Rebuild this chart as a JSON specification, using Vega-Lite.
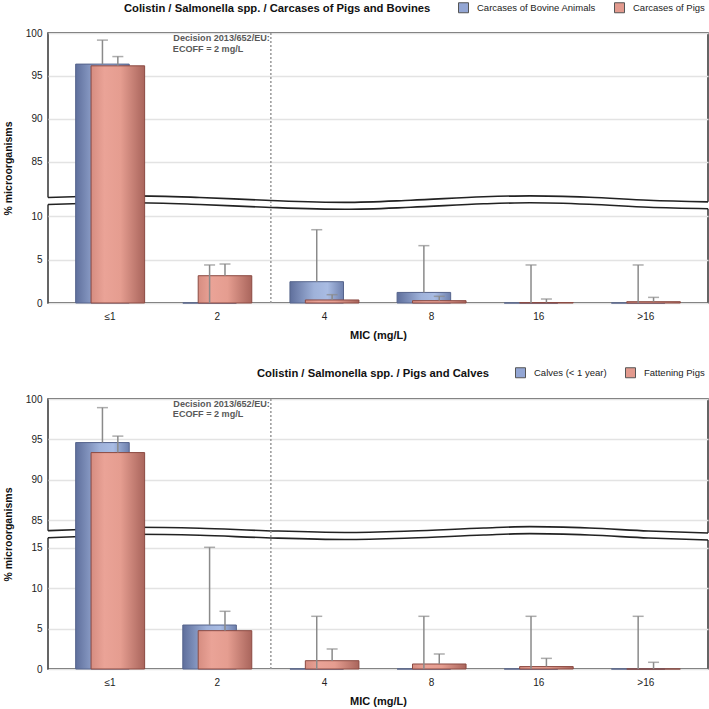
{
  "$schema": "https://vega.github.io/schema/vega-lite/v6.json",
  "padding": {"left": 2, "top": 1, "right": 0, "bottom": 0},
  "background": "white",
  "spacing": 25,
  "resolve": {"scale": {"x": "independent", "y": "independent", "color": "independent"}, "legend": {"color": "independent"}},
  "config": {
    "font": "Liberation Sans",
    "view": {"stroke": "#333", "strokeWidth": 1.5},
    "axis": {"labelFontSize": 10, "labelColor": "#222", "titleFontWeight": "bold", "titleColor": "#111", "domain": false, "ticks": false},
    "axisX": {"labelPadding": 8, "titlePadding": 8, "titleFontSize": 11, "labelAngle": 0, "grid": false},
    "axisY": {"labelPadding": 6, "titlePadding": 12, "titleFontSize": 10.5, "grid": true, "gridColor": "#e3e3e3", "gridWidth": 1.5},
    "title": {"fontSize": 11.25, "fontWeight": "bold", "color": "#111"},
    "legend": {"padding": 0, "labelFontSize": 9.5, "labelColor": "#222", "symbolType": "square", "symbolSize": 100, "symbolStrokeColor": "#555", "symbolStrokeWidth": 1, "labelOffset": 8, "columnPadding": 16}
  },
  "datasets": {
    "top": [
      {"mic": "≤1", "series": "Carcases of Bovine Animals", "value": 96.37, "upper": 99.17},
      {"mic": "2", "series": "Carcases of Bovine Animals", "value": 0, "upper": 4.39},
      {"mic": "4", "series": "Carcases of Bovine Animals", "value": 2.46, "upper": 8.46},
      {"mic": "8", "series": "Carcases of Bovine Animals", "value": 1.22, "upper": 6.62},
      {"mic": "16", "series": "Carcases of Bovine Animals", "value": 0, "upper": 4.39},
      {"mic": ">16", "series": "Carcases of Bovine Animals", "value": 0, "upper": 4.39},
      {"mic": "≤1", "series": "Carcases of Pigs", "value": 96.17, "upper": 97.25},
      {"mic": "2", "series": "Carcases of Pigs", "value": 3.15, "upper": 4.5},
      {"mic": "4", "series": "Carcases of Pigs", "value": 0.35, "upper": 0.96},
      {"mic": "8", "series": "Carcases of Pigs", "value": 0.27, "upper": 0.77},
      {"mic": "16", "series": "Carcases of Pigs", "value": 0.05, "upper": 0.46},
      {"mic": ">16", "series": "Carcases of Pigs", "value": 0.15, "upper": 0.65}
    ],
    "bot": [
      {"mic": "≤1", "series": "Calves (< 1 year)", "value": 94.6, "upper": 98.93},
      {"mic": "2", "series": "Calves (< 1 year)", "value": 5.45, "upper": 15.08},
      {"mic": "4", "series": "Calves (< 1 year)", "value": 0, "upper": 6.53},
      {"mic": "8", "series": "Calves (< 1 year)", "value": 0, "upper": 6.53},
      {"mic": "16", "series": "Calves (< 1 year)", "value": 0, "upper": 6.53},
      {"mic": ">16", "series": "Calves (< 1 year)", "value": 0, "upper": 6.53},
      {"mic": "≤1", "series": "Fattening Pigs", "value": 93.36, "upper": 95.4},
      {"mic": "2", "series": "Fattening Pigs", "value": 4.75, "upper": 7.15},
      {"mic": "4", "series": "Fattening Pigs", "value": 1.03, "upper": 2.48},
      {"mic": "8", "series": "Fattening Pigs", "value": 0.62, "upper": 1.86},
      {"mic": "16", "series": "Fattening Pigs", "value": 0.3, "upper": 1.32},
      {"mic": ">16", "series": "Fattening Pigs", "value": 0, "upper": 0.83}
    ],
    "wtop": [
      {"f": -0.004, "hi": 80.81, "lo": 11.37},
      {"f": 0, "hi": 80.81, "lo": 11.37},
      {"f": 0.05, "hi": 80.92, "lo": 11.49},
      {"f": 0.13, "hi": 81.0, "lo": 11.57},
      {"f": 0.23, "hi": 80.81, "lo": 11.37},
      {"f": 0.33, "hi": 80.48, "lo": 11.05},
      {"f": 0.45, "hi": 80.24, "lo": 10.82},
      {"f": 0.55, "hi": 80.48, "lo": 11.05},
      {"f": 0.66, "hi": 80.89, "lo": 11.45},
      {"f": 0.73, "hi": 81.0, "lo": 11.57},
      {"f": 0.82, "hi": 80.83, "lo": 11.4},
      {"f": 0.91, "hi": 80.48, "lo": 11.05},
      {"f": 1, "hi": 80.3, "lo": 10.88},
      {"f": 1.004, "hi": 80.3, "lo": 10.88}
    ],
    "wbot": [
      {"f": -0.004, "hi": 83.68, "lo": 16.27},
      {"f": 0, "hi": 83.68, "lo": 16.27},
      {"f": 0.05, "hi": 83.83, "lo": 16.42},
      {"f": 0.13, "hi": 84.1, "lo": 16.69},
      {"f": 0.23, "hi": 83.98, "lo": 16.57},
      {"f": 0.33, "hi": 83.68, "lo": 16.27},
      {"f": 0.45, "hi": 83.46, "lo": 16.05},
      {"f": 0.55, "hi": 83.64, "lo": 16.23},
      {"f": 0.66, "hi": 84.01, "lo": 16.6},
      {"f": 0.73, "hi": 84.18, "lo": 16.77},
      {"f": 0.82, "hi": 84.01, "lo": 16.6},
      {"f": 0.91, "hi": 83.64, "lo": 16.23},
      {"f": 1, "hi": 83.4, "lo": 15.99},
      {"f": 1.004, "hi": 83.4, "lo": 15.99}
    ]
  },
  "vconcat": [
    {
      "width": 660,
      "height": 270,
      "title": {"text": "Colistin / Salmonella spp. / Carcases of Pigs and Bovines", "anchor": "start", "frame": "group", "dx": 76, "offset": -12},
      "resolve": {"scale": {"x": "independent"}},
      "layer": [
        {
          "data": {"name": "wtop"},
          "layer": [
            {"mark": {"type": "area", "color": "white", "interpolate": "monotone"},
             "encoding": {
               "x": {"field": "f", "type": "quantitative", "scale": {"domain": [0, 1], "nice": false, "zero": false}, "axis": null},
               "y": {"field": "hi", "type": "quantitative", "scale": {"domain": [0, 11.59, 80.21, 100], "range": [270, 169.6, 169.6, 0], "nice": false, "zero": false}, "axis": {"values": [0, 5, 10, 85, 90, 95, 100], "title": "% microorganisms"}},
               "y2": {"field": "lo"}}},
            {"transform": [{"filter": "datum.f >= 0 && datum.f <= 1"}],
             "mark": {"type": "line", "color": "#222", "strokeWidth": 1.6, "interpolate": "monotone"},
             "encoding": {
               "x": {"field": "f", "type": "quantitative", "scale": {"domain": [0, 1], "nice": false, "zero": false}, "axis": null},
               "y": {"field": "hi", "type": "quantitative", "scale": {"domain": [0, 11.59, 80.21, 100], "range": [270, 169.6, 169.6, 0], "nice": false, "zero": false}, "axis": {"values": [0, 5, 10, 85, 90, 95, 100], "title": "% microorganisms"}}}},
            {"transform": [{"filter": "datum.f >= 0 && datum.f <= 1"}],
             "mark": {"type": "line", "color": "#222", "strokeWidth": 1.6, "interpolate": "monotone"},
             "encoding": {
               "x": {"field": "f", "type": "quantitative", "scale": {"domain": [0, 1], "nice": false, "zero": false}, "axis": null},
               "y": {"field": "lo", "type": "quantitative", "scale": {"domain": [0, 11.59, 80.21, 100], "range": [270, 169.6, 169.6, 0], "nice": false, "zero": false}, "axis": {"values": [0, 5, 10, 85, 90, 95, 100], "title": "% microorganisms"}}}}
          ]
        },
        {
          "data": {"name": "top"},
          "layer": [
            {"data": {"values": [{}]},
             "mark": {"type": "rule", "color": "#999", "strokeDash": [2, 2], "strokeWidth": 1.5},
             "encoding": {"x": {"datum": "4", "type": "nominal", "bandPosition": 0, "scale": {"domain": ["≤1", "2", "4", "8", "16", ">16"], "paddingInner": 0, "paddingOuter": 0.08}, "axis": {"title": "MIC (mg/L)"}}}},
            {"transform": [{"filter": "datum.value < 0"}],
             "mark": {"type": "bar"},
             "encoding": {
               "x": {"field": "mic", "type": "nominal", "scale": {"domain": ["≤1", "2", "4", "8", "16", ">16"], "paddingInner": 0, "paddingOuter": 0.08}, "axis": {"title": "MIC (mg/L)"}},
               "y": {"field": "value", "type": "quantitative", "scale": {"domain": [0, 11.59, 80.21, 100], "range": [270, 169.6, 169.6, 0], "nice": false, "zero": false}, "axis": {"values": [0, 5, 10, 85, 90, 95, 100], "title": "% microorganisms"}},
               "color": {"field": "series", "type": "nominal", "scale": {"domain": ["Carcases of Bovine Animals", "Carcases of Pigs"], "range": ["#93a6d4", "#e29a8e"]},
                 "legend": {"orient": "none", "legendX": 410, "legendY": -31, "direction": "horizontal", "title": null}}}},
            {"transform": [{"filter": "datum.series == 'Carcases of Bovine Animals'"}],
             "mark": {"type": "bar", "width": {"band": 0.5}, "xOffset": -7.7, "stroke": "#56648c", "strokeWidth": 1,
               "color": {"gradient": "linear", "x1": 0, "y1": 0, "x2": 1, "y2": 0, "stops": [{"offset": 0, "color": "#5f6f9c"}, {"offset": 0.45, "color": "#9fb2da"}, {"offset": 0.7, "color": "#a9bce3"}, {"offset": 1, "color": "#6e80ad"}]}},
             "encoding": {
               "x": {"field": "mic", "type": "nominal", "scale": {"domain": ["≤1", "2", "4", "8", "16", ">16"], "paddingInner": 0, "paddingOuter": 0.08}, "axis": {"title": "MIC (mg/L)"}},
               "y": {"field": "value", "type": "quantitative", "scale": {"domain": [0, 11.59, 80.21, 100], "range": [270, 169.6, 169.6, 0], "nice": false, "zero": false}, "axis": {"values": [0, 5, 10, 85, 90, 95, 100], "title": "% microorganisms"}}}},
            {"transform": [{"filter": "datum.series == 'Carcases of Pigs'"}],
             "mark": {"type": "bar", "width": {"band": 0.5}, "xOffset": 7.7, "stroke": "#8b4a42", "strokeWidth": 1,
               "color": {"gradient": "linear", "x1": 0, "y1": 0, "x2": 1, "y2": 0, "stops": [{"offset": 0, "color": "#d68d81"}, {"offset": 0.25, "color": "#eaa397"}, {"offset": 0.55, "color": "#e59d90"}, {"offset": 1, "color": "#a9655c"}]}},
             "encoding": {
               "x": {"field": "mic", "type": "nominal", "scale": {"domain": ["≤1", "2", "4", "8", "16", ">16"], "paddingInner": 0, "paddingOuter": 0.08}, "axis": {"title": "MIC (mg/L)"}},
               "y": {"field": "value", "type": "quantitative", "scale": {"domain": [0, 11.59, 80.21, 100], "range": [270, 169.6, 169.6, 0], "nice": false, "zero": false}, "axis": {"values": [0, 5, 10, 85, 90, 95, 100], "title": "% microorganisms"}}}},
            {"transform": [{"filter": "datum.series == 'Carcases of Bovine Animals'"}],
             "layer": [
               {"mark": {"type": "rule", "color": "#8a8a8a", "strokeWidth": 1.5, "xOffset": -7.7},
                "encoding": {
                  "x": {"field": "mic", "type": "nominal", "scale": {"domain": ["≤1", "2", "4", "8", "16", ">16"], "paddingInner": 0, "paddingOuter": 0.08}, "axis": {"title": "MIC (mg/L)"}},
                  "y": {"field": "value", "type": "quantitative", "scale": {"domain": [0, 11.59, 80.21, 100], "range": [270, 169.6, 169.6, 0], "nice": false, "zero": false}, "axis": {"values": [0, 5, 10, 85, 90, 95, 100], "title": "% microorganisms"}},
                  "y2": {"field": "upper"}}},
               {"mark": {"type": "tick", "color": "#8a8a8a", "size": 11, "thickness": 1.5, "xOffset": -7.7},
                "encoding": {
                  "x": {"field": "mic", "type": "nominal", "scale": {"domain": ["≤1", "2", "4", "8", "16", ">16"], "paddingInner": 0, "paddingOuter": 0.08}, "axis": {"title": "MIC (mg/L)"}},
                  "y": {"field": "upper", "type": "quantitative", "scale": {"domain": [0, 11.59, 80.21, 100], "range": [270, 169.6, 169.6, 0], "nice": false, "zero": false}, "axis": {"values": [0, 5, 10, 85, 90, 95, 100], "title": "% microorganisms"}}}}
             ]},
            {"transform": [{"filter": "datum.series == 'Carcases of Pigs'"}],
             "layer": [
               {"mark": {"type": "rule", "color": "#8a8a8a", "strokeWidth": 1.5, "xOffset": 7.7},
                "encoding": {
                  "x": {"field": "mic", "type": "nominal", "scale": {"domain": ["≤1", "2", "4", "8", "16", ">16"], "paddingInner": 0, "paddingOuter": 0.08}, "axis": {"title": "MIC (mg/L)"}},
                  "y": {"field": "value", "type": "quantitative", "scale": {"domain": [0, 11.59, 80.21, 100], "range": [270, 169.6, 169.6, 0], "nice": false, "zero": false}, "axis": {"values": [0, 5, 10, 85, 90, 95, 100], "title": "% microorganisms"}},
                  "y2": {"field": "upper"}}},
               {"mark": {"type": "tick", "color": "#8a8a8a", "size": 11, "thickness": 1.5, "xOffset": 7.7},
                "encoding": {
                  "x": {"field": "mic", "type": "nominal", "scale": {"domain": ["≤1", "2", "4", "8", "16", ">16"], "paddingInner": 0, "paddingOuter": 0.08}, "axis": {"title": "MIC (mg/L)"}},
                  "y": {"field": "upper", "type": "quantitative", "scale": {"domain": [0, 11.59, 80.21, 100], "range": [270, 169.6, 169.6, 0], "nice": false, "zero": false}, "axis": {"values": [0, 5, 10, 85, 90, 95, 100], "title": "% microorganisms"}}}}
             ]},
            {"data": {"values": [{}]},
             "mark": {"type": "text", "text": "Decision 2013/652/EU:", "align": "right", "baseline": "middle", "dx": -1, "dy": 5, "fontWeight": "bold", "fontSize": 9.1, "color": "#595959"},
             "encoding": {
               "x": {"datum": "4", "type": "nominal", "bandPosition": 0, "scale": {"domain": ["≤1", "2", "4", "8", "16", ">16"], "paddingInner": 0, "paddingOuter": 0.08}, "axis": {"title": "MIC (mg/L)"}},
               "y": {"datum": 100, "type": "quantitative", "scale": {"domain": [0, 11.59, 80.21, 100], "range": [270, 169.6, 169.6, 0], "nice": false, "zero": false}, "axis": {"values": [0, 5, 10, 85, 90, 95, 100], "title": "% microorganisms"}}}},
            {"data": {"values": [{}]},
             "mark": {"type": "text", "text": "ECOFF = 2 mg/L", "align": "left", "baseline": "middle", "dx": -98, "dy": 16, "fontWeight": "bold", "fontSize": 9.1, "color": "#595959"},
             "encoding": {
               "x": {"datum": "4", "type": "nominal", "bandPosition": 0, "scale": {"domain": ["≤1", "2", "4", "8", "16", ">16"], "paddingInner": 0, "paddingOuter": 0.08}, "axis": {"title": "MIC (mg/L)"}},
               "y": {"datum": 100, "type": "quantitative", "scale": {"domain": [0, 11.59, 80.21, 100], "range": [270, 169.6, 169.6, 0], "nice": false, "zero": false}, "axis": {"values": [0, 5, 10, 85, 90, 95, 100], "title": "% microorganisms"}}}}
          ]
        }
      ]
    },
    {
      "width": 660,
      "height": 270,
      "title": {"text": "Colistin / Salmonella spp. / Pigs and Calves", "anchor": "start", "frame": "group", "dx": 209, "offset": -12},
      "resolve": {"scale": {"x": "independent"}},
      "layer": [
        {
          "data": {"name": "wbot"},
          "layer": [
            {"mark": {"type": "area", "color": "white", "interpolate": "monotone"},
             "encoding": {
               "x": {"field": "f", "type": "quantitative", "scale": {"domain": [0, 1], "nice": false, "zero": false}, "axis": null},
               "y": {"field": "hi", "type": "quantitative", "scale": {"domain": [0, 16.81, 83.35, 100], "range": [270, 134.35, 134.35, 0], "nice": false, "zero": false}, "axis": {"values": [0, 5, 10, 15, 85, 90, 95, 100], "title": "% microorganisms"}},
               "y2": {"field": "lo"}}},
            {"transform": [{"filter": "datum.f >= 0 && datum.f <= 1"}],
             "mark": {"type": "line", "color": "#222", "strokeWidth": 1.6, "interpolate": "monotone"},
             "encoding": {
               "x": {"field": "f", "type": "quantitative", "scale": {"domain": [0, 1], "nice": false, "zero": false}, "axis": null},
               "y": {"field": "hi", "type": "quantitative", "scale": {"domain": [0, 16.81, 83.35, 100], "range": [270, 134.35, 134.35, 0], "nice": false, "zero": false}, "axis": {"values": [0, 5, 10, 15, 85, 90, 95, 100], "title": "% microorganisms"}}}},
            {"transform": [{"filter": "datum.f >= 0 && datum.f <= 1"}],
             "mark": {"type": "line", "color": "#222", "strokeWidth": 1.6, "interpolate": "monotone"},
             "encoding": {
               "x": {"field": "f", "type": "quantitative", "scale": {"domain": [0, 1], "nice": false, "zero": false}, "axis": null},
               "y": {"field": "lo", "type": "quantitative", "scale": {"domain": [0, 16.81, 83.35, 100], "range": [270, 134.35, 134.35, 0], "nice": false, "zero": false}, "axis": {"values": [0, 5, 10, 15, 85, 90, 95, 100], "title": "% microorganisms"}}}}
          ]
        },
        {
          "data": {"name": "bot"},
          "layer": [
            {"data": {"values": [{}]},
             "mark": {"type": "rule", "color": "#999", "strokeDash": [2, 2], "strokeWidth": 1.5},
             "encoding": {"x": {"datum": "4", "type": "nominal", "bandPosition": 0, "scale": {"domain": ["≤1", "2", "4", "8", "16", ">16"], "paddingInner": 0, "paddingOuter": 0.08}, "axis": {"title": "MIC (mg/L)"}}}},
            {"transform": [{"filter": "datum.value < 0"}],
             "mark": {"type": "bar"},
             "encoding": {
               "x": {"field": "mic", "type": "nominal", "scale": {"domain": ["≤1", "2", "4", "8", "16", ">16"], "paddingInner": 0, "paddingOuter": 0.08}, "axis": {"title": "MIC (mg/L)"}},
               "y": {"field": "value", "type": "quantitative", "scale": {"domain": [0, 16.81, 83.35, 100], "range": [270, 134.35, 134.35, 0], "nice": false, "zero": false}, "axis": {"values": [0, 5, 10, 15, 85, 90, 95, 100], "title": "% microorganisms"}},
               "color": {"field": "series", "type": "nominal", "scale": {"domain": ["Calves (< 1 year)", "Fattening Pigs"], "range": ["#93a6d4", "#e29a8e"]},
                 "legend": {"orient": "none", "legendX": 467, "legendY": -32, "direction": "horizontal", "title": null}}}},
            {"transform": [{"filter": "datum.series == 'Calves (< 1 year)'"}],
             "mark": {"type": "bar", "width": {"band": 0.5}, "xOffset": -7.7, "stroke": "#56648c", "strokeWidth": 1,
               "color": {"gradient": "linear", "x1": 0, "y1": 0, "x2": 1, "y2": 0, "stops": [{"offset": 0, "color": "#5f6f9c"}, {"offset": 0.45, "color": "#9fb2da"}, {"offset": 0.7, "color": "#a9bce3"}, {"offset": 1, "color": "#6e80ad"}]}},
             "encoding": {
               "x": {"field": "mic", "type": "nominal", "scale": {"domain": ["≤1", "2", "4", "8", "16", ">16"], "paddingInner": 0, "paddingOuter": 0.08}, "axis": {"title": "MIC (mg/L)"}},
               "y": {"field": "value", "type": "quantitative", "scale": {"domain": [0, 16.81, 83.35, 100], "range": [270, 134.35, 134.35, 0], "nice": false, "zero": false}, "axis": {"values": [0, 5, 10, 15, 85, 90, 95, 100], "title": "% microorganisms"}}}},
            {"transform": [{"filter": "datum.series == 'Fattening Pigs'"}],
             "mark": {"type": "bar", "width": {"band": 0.5}, "xOffset": 7.7, "stroke": "#8b4a42", "strokeWidth": 1,
               "color": {"gradient": "linear", "x1": 0, "y1": 0, "x2": 1, "y2": 0, "stops": [{"offset": 0, "color": "#d68d81"}, {"offset": 0.25, "color": "#eaa397"}, {"offset": 0.55, "color": "#e59d90"}, {"offset": 1, "color": "#a9655c"}]}},
             "encoding": {
               "x": {"field": "mic", "type": "nominal", "scale": {"domain": ["≤1", "2", "4", "8", "16", ">16"], "paddingInner": 0, "paddingOuter": 0.08}, "axis": {"title": "MIC (mg/L)"}},
               "y": {"field": "value", "type": "quantitative", "scale": {"domain": [0, 16.81, 83.35, 100], "range": [270, 134.35, 134.35, 0], "nice": false, "zero": false}, "axis": {"values": [0, 5, 10, 15, 85, 90, 95, 100], "title": "% microorganisms"}}}},
            {"transform": [{"filter": "datum.series == 'Calves (< 1 year)'"}],
             "layer": [
               {"mark": {"type": "rule", "color": "#8a8a8a", "strokeWidth": 1.5, "xOffset": -7.7},
                "encoding": {
                  "x": {"field": "mic", "type": "nominal", "scale": {"domain": ["≤1", "2", "4", "8", "16", ">16"], "paddingInner": 0, "paddingOuter": 0.08}, "axis": {"title": "MIC (mg/L)"}},
                  "y": {"field": "value", "type": "quantitative", "scale": {"domain": [0, 16.81, 83.35, 100], "range": [270, 134.35, 134.35, 0], "nice": false, "zero": false}, "axis": {"values": [0, 5, 10, 15, 85, 90, 95, 100], "title": "% microorganisms"}},
                  "y2": {"field": "upper"}}},
               {"mark": {"type": "tick", "color": "#8a8a8a", "size": 11, "thickness": 1.5, "xOffset": -7.7},
                "encoding": {
                  "x": {"field": "mic", "type": "nominal", "scale": {"domain": ["≤1", "2", "4", "8", "16", ">16"], "paddingInner": 0, "paddingOuter": 0.08}, "axis": {"title": "MIC (mg/L)"}},
                  "y": {"field": "upper", "type": "quantitative", "scale": {"domain": [0, 16.81, 83.35, 100], "range": [270, 134.35, 134.35, 0], "nice": false, "zero": false}, "axis": {"values": [0, 5, 10, 15, 85, 90, 95, 100], "title": "% microorganisms"}}}}
             ]},
            {"transform": [{"filter": "datum.series == 'Fattening Pigs'"}],
             "layer": [
               {"mark": {"type": "rule", "color": "#8a8a8a", "strokeWidth": 1.5, "xOffset": 7.7},
                "encoding": {
                  "x": {"field": "mic", "type": "nominal", "scale": {"domain": ["≤1", "2", "4", "8", "16", ">16"], "paddingInner": 0, "paddingOuter": 0.08}, "axis": {"title": "MIC (mg/L)"}},
                  "y": {"field": "value", "type": "quantitative", "scale": {"domain": [0, 16.81, 83.35, 100], "range": [270, 134.35, 134.35, 0], "nice": false, "zero": false}, "axis": {"values": [0, 5, 10, 15, 85, 90, 95, 100], "title": "% microorganisms"}},
                  "y2": {"field": "upper"}}},
               {"mark": {"type": "tick", "color": "#8a8a8a", "size": 11, "thickness": 1.5, "xOffset": 7.7},
                "encoding": {
                  "x": {"field": "mic", "type": "nominal", "scale": {"domain": ["≤1", "2", "4", "8", "16", ">16"], "paddingInner": 0, "paddingOuter": 0.08}, "axis": {"title": "MIC (mg/L)"}},
                  "y": {"field": "upper", "type": "quantitative", "scale": {"domain": [0, 16.81, 83.35, 100], "range": [270, 134.35, 134.35, 0], "nice": false, "zero": false}, "axis": {"values": [0, 5, 10, 15, 85, 90, 95, 100], "title": "% microorganisms"}}}}
             ]},
            {"data": {"values": [{}]},
             "mark": {"type": "text", "text": "Decision 2013/652/EU:", "align": "right", "baseline": "middle", "dx": -1, "dy": 5, "fontWeight": "bold", "fontSize": 9.1, "color": "#595959"},
             "encoding": {
               "x": {"datum": "4", "type": "nominal", "bandPosition": 0, "scale": {"domain": ["≤1", "2", "4", "8", "16", ">16"], "paddingInner": 0, "paddingOuter": 0.08}, "axis": {"title": "MIC (mg/L)"}},
               "y": {"datum": 100, "type": "quantitative", "scale": {"domain": [0, 16.81, 83.35, 100], "range": [270, 134.35, 134.35, 0], "nice": false, "zero": false}, "axis": {"values": [0, 5, 10, 15, 85, 90, 95, 100], "title": "% microorganisms"}}}},
            {"data": {"values": [{}]},
             "mark": {"type": "text", "text": "ECOFF = 2 mg/L", "align": "left", "baseline": "middle", "dx": -98, "dy": 15, "fontWeight": "bold", "fontSize": 9.1, "color": "#595959"},
             "encoding": {
               "x": {"datum": "4", "type": "nominal", "bandPosition": 0, "scale": {"domain": ["≤1", "2", "4", "8", "16", ">16"], "paddingInner": 0, "paddingOuter": 0.08}, "axis": {"title": "MIC (mg/L)"}},
               "y": {"datum": 100, "type": "quantitative", "scale": {"domain": [0, 16.81, 83.35, 100], "range": [270, 134.35, 134.35, 0], "nice": false, "zero": false}, "axis": {"values": [0, 5, 10, 15, 85, 90, 95, 100], "title": "% microorganisms"}}}}
          ]
        }
      ]
    }
  ]
}
